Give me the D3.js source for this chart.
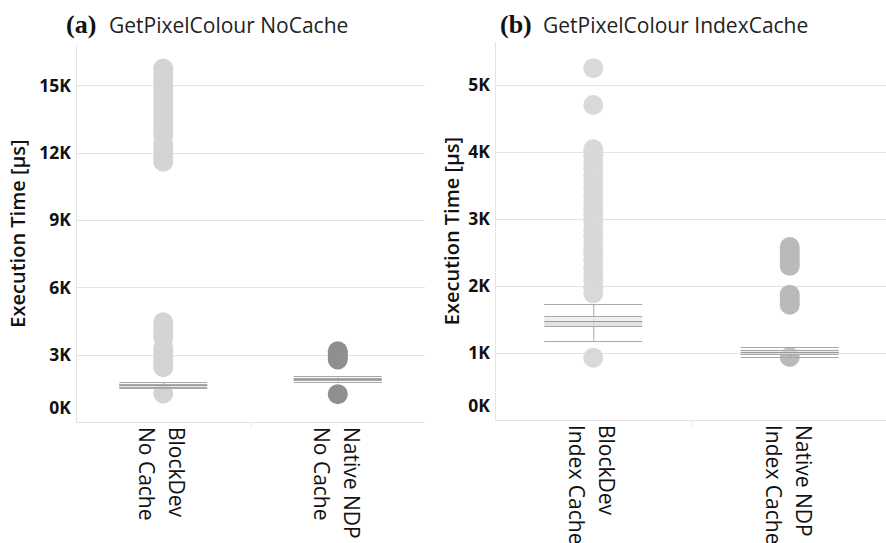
<!DOCTYPE html>
<html>
<head>
<meta charset="utf-8">
<script src="https://cdnjs.cloudflare.com/ajax/libs/d3/7.8.5/d3.min.js"></script>
<style>
    body { margin: 0; background: #fff; }
    svg { display: block; }
    .tick_label { font-family: "Open Sans", sans-serif; font-weight: 700; font-size: 17.5px; fill: #111; }
    .axis_title { font-family: "Open Sans", sans-serif; font-weight: 600; font-size: 20px; fill: #111; }
    .cat_label { font-family: "Open Sans", sans-serif; font-size: 21px; fill: #111; }
    .panel_title { font-family: "Open Sans", sans-serif; font-size: 21px; fill: #222; }
    .panel_tag { font-family: "Liberation Serif", "Times New Roman", serif; font-weight: 700; font-size: 26px; fill: #111; }
</style>
</head>
<body>
<svg id="chart" width="886" height="543"></svg>
<script>
    // ---- data ----
    var categoriesA = [["BlockDev", "No Cache"], ["Native NDP", "No Cache"]];
    var categoriesB = [["BlockDev", "Index Cache"], ["Native NDP", "Index Cache"]];

    var ticksA = [0, 3000, 6000, 9000, 12000, 15000];
    var ticksB = [0, 1000, 2000, 3000, 4000, 5000];

    // execution times [us] of each run (points)
    var blockDevNoCache = [15750, 15550, 15350, 15150, 14950, 14750, 14550, 14350, 14150, 13950,
                           13750, 13550, 13350, 13150, 12950, 12800,
                           12400, 12200, 12000, 11800, 11600,
                           4440, 4250, 4050, 3850, 3750, 3300, 3100, 2900, 2700, 2500, 2440, 1270];
    var nativeNoCache = [3150, 3050, 2950, 2860, 2790, 1240];
    var blockDevIndexCache = [5250, 4700,
                              4040, 3950, 3850, 3750, 3650, 3550, 3450, 3350, 3250, 3150, 3050,
                              2960, 2850, 2750, 2650, 2550, 2480, 2380, 2280, 2180, 2080, 1980, 1890,
                              930];
    var nativeIndexCache = [2580, 2520, 2460, 2400, 2340, 2300, 1870, 1820, 1770, 1720, 940];

    // box plot stats: lower whisker, q1, median, q3, upper whisker
    var boxBlockDevNoCache = [1500, 1570, 1630, 1700, 1780];
    var boxNativeNoCache = [1800, 1860, 1910, 1970, 2040];
    var boxBlockDevIndexCache = [1180, 1400, 1480, 1550, 1730];
    var boxNativeIndexCache = [940, 980, 1020, 1050, 1090];

    var svg = d3.select('#chart');

    /**
     * draw one panel of the figure
     * @param {Object} p - panel settings
     */
    function drawPanel(p) {
        var g = svg.append('g');

        var y = d3.scaleLinear().domain([0, p.yMax]).range([p.y1, p.y0]);
        var x = d3.scaleBand().domain(d3.range(p.categories.length)).range([p.x0, p.x1]);

        // gridlines
        g.selectAll('.grid').data(p.ticks).enter()
            .append('line')
            .attr('x1', p.x0).attr('x2', p.x1)
            .attr('y1', function(d) { return Math.round(y(d)) + 0.5; })
            .attr('y2', function(d) { return Math.round(y(d)) + 0.5; })
            .style('stroke', '#e4e4e4');

        // left axis line and bottom line
        g.append('line')
            .attr('x1', p.x0 + 0.5).attr('x2', p.x0 + 0.5)
            .attr('y1', p.y0).attr('y2', p.y1)
            .style('stroke', '#e4e4e4');
        g.append('line')
            .attr('x1', p.x0).attr('x2', p.x1)
            .attr('y1', p.y1 + 0.5).attr('y2', p.y1 + 0.5)
            .style('stroke', '#e4e4e4');
        // column divider in header
        g.append('line')
            .attr('x1', x(1) + 0.5).attr('x2', x(1) + 0.5)
            .attr('y1', p.y1).attr('y2', p.y1 + 6)
            .style('stroke', '#ececec');

        // tick labels, bottom one nudged up like Tableau does
        g.selectAll('.tick_label').data(p.ticks).enter()
            .append('text')
            .attr('class', 'tick_label')
            .attr('x', p.x0 - 5)
            .attr('y', function(d) { return Math.min(y(d), p.y1 - 14); })
            .attr('dy', '0.36em')
            .attr('text-anchor', 'end')
            .text(function(d) { return (d / 1000) + 'K'; });

        // axis title
        g.append('text')
            .attr('class', 'axis_title')
            .attr('transform', 'translate(' + p.titleX + ',' + ((p.y0 + p.y1) / 2) + ') rotate(-90)')
            .attr('text-anchor', 'middle')
            .attr('dy', '0.36em')
            .text('Execution Time [µs]');

        // points
        p.series.forEach(function(values, i) {
            var cx = x(i) + x.bandwidth() / 2;
            g.append('g').selectAll('circle').data(values).enter()
                .append('circle')
                .attr('cx', cx)
                .attr('cy', function(d) { return y(d); })
                .attr('r', 10)
                .style('fill', p.colors[i]);
        });

        // box plots drawn over the points
        p.boxes.forEach(function(b, i) {
            var cx = x(i) + x.bandwidth() / 2;
            var hw = p.boxHalf;
            var bg = g.append('g');
            // whisker stem
            bg.append('line')
                .attr('x1', cx + 0.5).attr('x2', cx + 0.5)
                .attr('y1', y(b[0])).attr('y2', y(b[4]))
                .style('stroke', '#a6a6a6');
            // upper and lower half of the box
            bg.append('rect')
                .attr('x', cx - hw).attr('width', hw * 2)
                .attr('y', y(b[3])).attr('height', y(b[2]) - y(b[3]))
                .style('fill', '#ececec').style('fill-opacity', 0.85);
            bg.append('rect')
                .attr('x', cx - hw).attr('width', hw * 2)
                .attr('y', y(b[2])).attr('height', y(b[1]) - y(b[2]))
                .style('fill', '#dedede').style('fill-opacity', 0.85);
            // whisker caps, box edges and median
            bg.selectAll('.edge').data(b).enter()
                .append('line')
                .attr('x1', cx - hw).attr('x2', cx + hw)
                .attr('y1', function(d) { return Math.round(y(d)) + 0.5; })
                .attr('y2', function(d) { return Math.round(y(d)) + 0.5; })
                .style('stroke', function(d, k) { return k === 2 ? '#9a9a9a' : '#a8a8a8'; });
        });

        // category labels, rotated and read top to bottom
        p.categories.forEach(function(lines, i) {
            var cx = x(i) + x.bandwidth() / 2;
            g.append('text')
                .attr('class', 'cat_label')
                .attr('transform', 'translate(' + (cx + 6) + ',' + (p.y1 + 5) + ') rotate(90)')
                .text(lines[0]);
            g.append('text')
                .attr('class', 'cat_label')
                .attr('transform', 'translate(' + (cx - 24) + ',' + (p.y1 + 5) + ') rotate(90)')
                .text(lines[1]);
        });

        // panel title
        g.append('text')
            .attr('class', 'panel_tag')
            .attr('x', p.tagX).attr('y', 33)
            .text(p.tag);
        g.append('text')
            .attr('class', 'panel_title')
            .attr('x', p.tagX + 43).attr('y', 33)
            .text(p.title);
    }

    drawPanel({
        x0: 76, x1: 425, y0: 45, y1: 422, yMax: 16800,
        ticks: ticksA, categories: categoriesA,
        series: [blockDevNoCache, nativeNoCache],
        boxes: [boxBlockDevNoCache, boxNativeNoCache],
        colors: ['#d4d4d4', '#8f8f8f'],
        boxHalf: 44, titleX: 18,
        tag: '(a)', tagX: 66, title: 'GetPixelColour NoCache'
    });

    drawPanel({
        x0: 495, x1: 888, y0: 42, y1: 420, yMax: 5640,
        ticks: ticksB, categories: categoriesB,
        series: [blockDevIndexCache, nativeIndexCache],
        boxes: [boxBlockDevIndexCache, boxNativeIndexCache],
        colors: ['#d8d9d9', '#bababa'],
        boxHalf: 49, titleX: 452,
        tag: '(b)', tagX: 500, title: 'GetPixelColour IndexCache'
    });
</script>
</body>
</html>
